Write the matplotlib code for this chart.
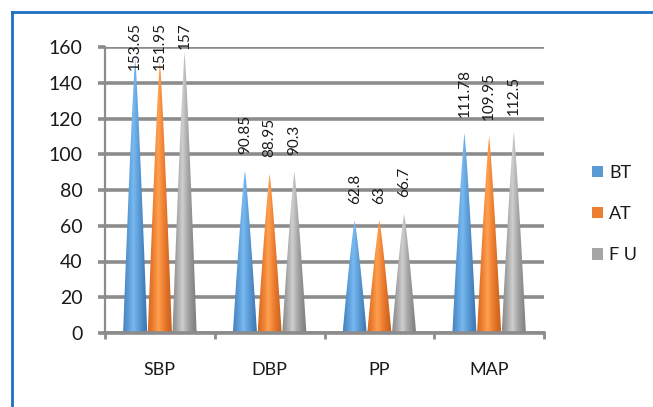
import numpy as np
import matplotlib
matplotlib.use("Agg")
import matplotlib.pyplot as plt
from matplotlib.colors import LinearSegmentedColormap
from matplotlib.path import Path
from matplotlib.patches import PathPatch, Patch
from matplotlib.lines import Line2D
from matplotlib.transforms import offset_copy

# Chart data
categories = ["SBP", "DBP", "PP", "MAP"]
series_names = ["BT", "AT", "F U"]
bt_values = [153.65, 90.85, 62.8, 111.78]
at_values = [151.95, 88.95, 63, 109.95]
fu_values = [157, 90.3, 66.7, 112.5]
bt_labels = ["153.65", "90.85", "62.8", "111.78"]
at_labels = ["151.95", "88.95", "63", "109.95"]
fu_labels = ["157", "90.3", "66.7", "112.5"]
y_ticks = [0, 20, 40, 60, 80, 100, 120, 140, 160]

# Colours: flat legend colour, plus edge / highlight for the cone shading
base_colors = ["#5B9BD5", "#ED7D31", "#A5A5A5"]
edge_colors = ["#3d78b5", "#c9611c", "#808080"]
light_colors = ["#78b9f2", "#ffa150", "#cfcfcf"]

plt.rcParams["font.family"] = ["Lato", "DejaVu Sans"]
plt.rcParams["text.color"] = "#1a1a1a"

fig = plt.figure(figsize=(6.53, 4.07), dpi=100)
ax = fig.add_axes([105 / 653, 1 - 333 / 407, (544 - 105) / 653, (333 - 47) / 407])

grid_color = "#8c8c8c"
ax.set_ylim(0, 160)
ax.set_xlim(-0.5, len(categories) - 0.5)
ax.set_yticks(y_ticks)
ax.yaxis.grid(True, color=grid_color, linewidth=2.6)
ax.set_axisbelow(True)
ax.tick_params(axis="y", length=5, width=2.6, color=grid_color, pad=11,
               labelsize=14, labelcolor="#1a1a1a")

ax.set_xticks(range(len(categories)))
ax.set_xticklabels(categories)
ax.set_xticks(np.arange(-0.5, len(categories)), minor=True)
ax.tick_params(axis="x", which="major", length=0, pad=21, labelsize=13,
               labelcolor="#1a1a1a")
ax.tick_params(axis="x", which="minor", length=4, width=2, color=grid_color)

for side in ["top", "right"]:
    ax.spines[side].set_visible(False)
ax.spines["left"].set_color(grid_color)
ax.spines["left"].set_linewidth(1.6)
ax.spines["bottom"].set_color(grid_color)
ax.spines["bottom"].set_linewidth(2.6)

cone_width = 0.22
offsets = [-0.225, 0.0, 0.225]
all_values = [bt_values, at_values, fu_values]
all_labels = [bt_labels, at_labels, fu_labels]

# horizontal shading profile: dark edges, highlight left of centre
grad = np.linspace(0, 1, 64)
shade = np.clip(1 - np.abs(grad - 0.42) / 0.55, 0, 1) ** 1.3
shade_img = shade[np.newaxis, :]

label_texts = []
for s, (values, labels) in enumerate(zip(all_values, all_labels)):
    cmap = LinearSegmentedColormap.from_list(
        f"cone{s}", [edge_colors[s], base_colors[s], light_colors[s]]
    )
    for i, (v, lab) in enumerate(zip(values, labels)):
        xc = i + offsets[s]
        half = cone_width / 2
        t = np.linspace(0, 1, 40)
        hw = half * (1 - t) ** 0.85
        left = np.column_stack([xc - hw, t * v])
        right = np.column_stack([xc + hw, t * v])[::-1]
        verts = np.vstack([left, right, left[:1]])
        path = Path(verts, closed=True)
        patch = PathPatch(path, facecolor="none", edgecolor="none")
        ax.add_patch(patch)
        im = ax.imshow(
            shade_img,
            cmap=cmap,
            vmin=0,
            vmax=1,
            extent=(xc - half, xc + half, 0, v),
            aspect="auto",
            interpolation="bilinear",
            zorder=2,
        )
        im.set_clip_path(patch)
        tr = offset_copy(ax.transData, fig=fig, x=0, y=12, units="points")
        txt = ax.text(
            xc, v, lab, rotation=90, ha="center", va="bottom",
            fontsize=11, transform=tr, clip_on=False, zorder=3,
        )
        label_texts.append(txt)

ax.set_xlim(-0.5, len(categories) - 0.5)
ax.set_ylim(0, 160)

# keep data labels inside the chart area (top limit ~22 px from the top)
fig.canvas.draw()
renderer = fig.canvas.get_renderer()
top_limit = fig.bbox.height - 22
for txt in label_texts:
    bb = txt.get_window_extent(renderer)
    if bb.y1 > top_limit:
        shift = (bb.y1 - top_limit) * 72 / fig.dpi
        txt.set_transform(
            offset_copy(ax.transData, fig=fig, x=0, y=12 - shift, units="points")
        )

handles = [Patch(facecolor=c, edgecolor="none") for c in base_colors]
fig.legend(
    handles, series_names, loc="center left",
    bbox_to_anchor=(592 / 653, 1 - 214 / 407),
    frameon=False, fontsize=13, handlelength=0.6, handleheight=0.6,
    handletextpad=0.35, labelspacing=1.4, borderpad=0, borderaxespad=0,
)

# blue chart-area border (left and top edges visible)
border = "#1f6fc5"
fig.add_artist(Line2D([12 / 653, 12 / 653], [0, 1 - 12 / 407], color=border, linewidth=2))
fig.add_artist(Line2D([12 / 653, 1], [1 - 12 / 407, 1 - 12 / 407], color=border, linewidth=2))

fig.savefig("out.png", dpi=100)
